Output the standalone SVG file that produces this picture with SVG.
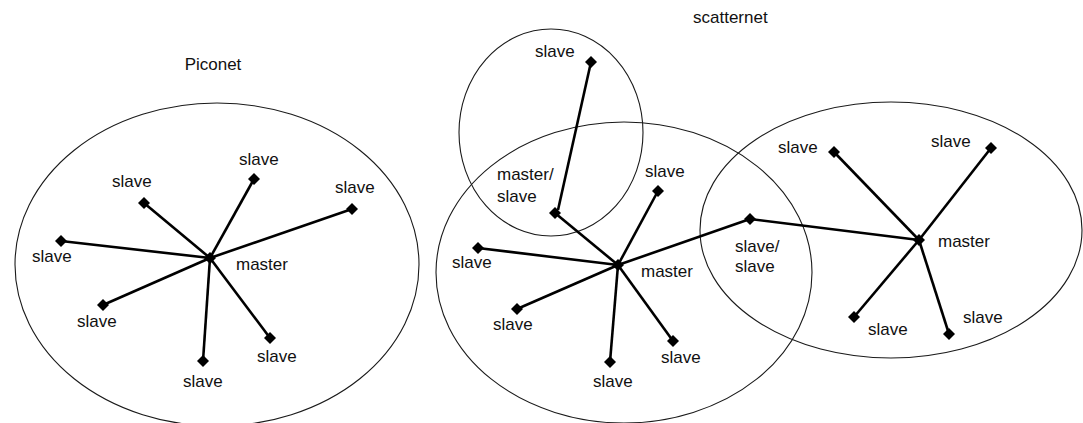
<svg xmlns="http://www.w3.org/2000/svg" width="1083" height="423" viewBox="0 0 1083 423">
<style>
.area{fill:none;stroke:#1a1a1a;stroke-width:1.1}
.lk{stroke:#000;stroke-width:2.6;fill:none}
.t{font-family:"Liberation Sans",Arial,sans-serif;font-size:17px;fill:#111}
</style>
<defs>
<path id="d" d="M0,-6 L6,0 L0,6 L-6,0 Z" fill="#000"/>
</defs>
<rect width="1083" height="423" fill="#fff"/>
<g id="areas">
<ellipse class="area" cx="217" cy="264.5" rx="202" ry="161.5"/>
<ellipse class="area" cx="624" cy="272.5" rx="188" ry="150.5"/>
<ellipse class="area" cx="551" cy="132.5" rx="92" ry="103.5"/>
<ellipse class="area" cx="891" cy="230" rx="191" ry="128"/>
</g>
<g id="titles">
<text class="t" x="213" y="70" text-anchor="middle">Piconet</text>
<text class="t" x="693" y="23">scatternet</text>
</g>
<g id="connectors">
<line class="lk" x1="210" y1="258" x2="254" y2="179"/>
<line class="lk" x1="210" y1="258" x2="144" y2="203"/>
<line class="lk" x1="210" y1="258" x2="352" y2="209"/>
<line class="lk" x1="210" y1="258" x2="61" y2="241"/>
<line class="lk" x1="210" y1="258" x2="103" y2="305"/>
<line class="lk" x1="210" y1="258" x2="203" y2="361"/>
<line class="lk" x1="210" y1="258" x2="270" y2="338"/>
<line class="lk" x1="618" y1="265" x2="555" y2="213"/>
<line class="lk" x1="558" y1="210" x2="591" y2="62"/>
<line class="lk" x1="618" y1="265" x2="658" y2="191"/>
<line class="lk" x1="618" y1="265" x2="750" y2="219"/>
<line class="lk" x1="618" y1="265" x2="478" y2="248"/>
<line class="lk" x1="618" y1="265" x2="517" y2="309"/>
<line class="lk" x1="618" y1="265" x2="610" y2="362"/>
<line class="lk" x1="618" y1="265" x2="673" y2="341"/>
<line class="lk" x1="919" y1="240" x2="750" y2="219"/>
<line class="lk" x1="919" y1="240" x2="834" y2="152"/>
<line class="lk" x1="919" y1="240" x2="991" y2="148"/>
<line class="lk" x1="919" y1="240" x2="854" y2="317"/>
<line class="lk" x1="919" y1="240" x2="949" y2="334"/>
</g>
<g id="p-master"><use href="#d" x="210" y="258"/><text class="t" x="236" y="270">master</text></g>
<g id="p-s1"><use href="#d" x="254" y="179"/><text class="t" x="239" y="165">slave</text></g>
<g id="p-s2"><use href="#d" x="144" y="203"/><text class="t" x="112" y="187">slave</text></g>
<g id="p-s3"><use href="#d" x="352" y="209"/><text class="t" x="335" y="193">slave</text></g>
<g id="p-s4"><use href="#d" x="61" y="241"/><text class="t" x="32" y="262">slave</text></g>
<g id="p-s5"><use href="#d" x="103" y="305"/><text class="t" x="77" y="327">slave</text></g>
<g id="p-s6"><use href="#d" x="203" y="361"/><text class="t" x="183" y="387">slave</text></g>
<g id="p-s7"><use href="#d" x="270" y="338"/><text class="t" x="257" y="362">slave</text></g>
<g id="s-master"><use href="#d" x="618" y="265"/><text class="t" x="641" y="277">master</text></g>
<g id="s-masterslave"><use href="#d" x="555" y="213"/><text class="t" x="497" y="180">master/</text><text class="t" x="497" y="202">slave</text></g>
<g id="s-top"><use href="#d" x="591" y="62"/><text class="t" x="535" y="57">slave</text></g>
<g id="s-s1"><use href="#d" x="658" y="191"/><text class="t" x="645" y="177">slave</text></g>
<g id="s-bridge"><use href="#d" x="750" y="219"/><text class="t" x="735" y="252">slave/</text><text class="t" x="735" y="272">slave</text></g>
<g id="s-s2"><use href="#d" x="478" y="248"/><text class="t" x="452" y="268">slave</text></g>
<g id="s-s3"><use href="#d" x="517" y="309"/><text class="t" x="493" y="330">slave</text></g>
<g id="s-s4"><use href="#d" x="610" y="362"/><text class="t" x="593" y="387">slave</text></g>
<g id="s-s5"><use href="#d" x="673" y="341"/><text class="t" x="661" y="363">slave</text></g>
<g id="r-master"><use href="#d" x="919" y="240"/><text class="t" x="938" y="247">master</text></g>
<g id="r-s1"><use href="#d" x="834" y="152"/><text class="t" x="778" y="153">slave</text></g>
<g id="r-s2"><use href="#d" x="991" y="148"/><text class="t" x="931" y="147">slave</text></g>
<g id="r-s3"><use href="#d" x="854" y="317"/><text class="t" x="868" y="335">slave</text></g>
<g id="r-s4"><use href="#d" x="949" y="334"/><text class="t" x="963" y="323">slave</text></g>
</svg>
